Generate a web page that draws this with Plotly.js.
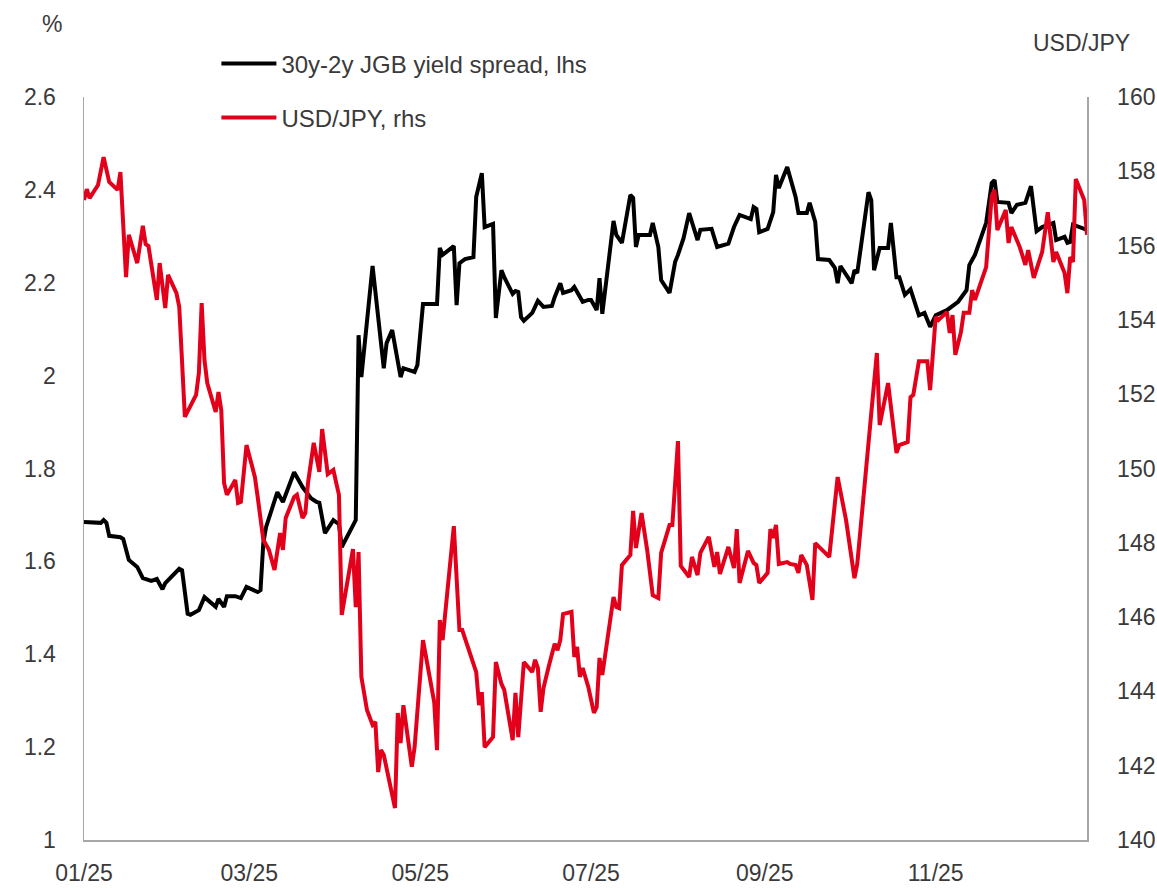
<!DOCTYPE html>
<html>
<head>
<meta charset="utf-8">
<script src="https://cdn.plot.ly/plotly-3.0.1.min.js"></script>
<style>html,body{margin:0;padding:0;background:#fff;}#chart{width:1157px;height:888px;}</style>
</head>
<body>
<div id="chart"></div>
<script>
// 30y-2y JGB yield spread (%, left axis)
const jgbDates = ["2025-01-01","2025-01-07","2025-01-08","2025-01-09","2025-01-10","2025-01-14","2025-01-15","2025-01-17","2025-01-20","2025-01-22","2025-01-25","2025-01-27","2025-01-29","2025-01-30","2025-02-04","2025-02-05","2025-02-07","2025-02-08","2025-02-11","2025-02-13","2025-02-17","2025-02-18","2025-02-20","2025-02-21","2025-02-24","2025-02-26","2025-02-28","2025-03-04","2025-03-05","2025-03-06","2025-03-07","2025-03-11","2025-03-13","2025-03-17","2025-03-20","2025-03-23","2025-03-25","2025-03-26","2025-03-28","2025-03-31","2025-04-02","2025-04-03","2025-04-08","2025-04-09","2025-04-10","2025-04-14","2025-04-18","2025-04-19","2025-04-21","2025-04-24","2025-04-25","2025-04-29","2025-04-30","2025-05-02","2025-05-07","2025-05-08","2025-05-09","2025-05-13","2025-05-14","2025-05-15","2025-05-17","2025-05-19","2025-05-20","2025-05-21","2025-05-23","2025-05-24","2025-05-27","2025-05-28","2025-05-30","2025-05-31","2025-06-03","2025-06-04","2025-06-05","2025-06-06","2025-06-07","2025-06-10","2025-06-12","2025-06-14","2025-06-17","2025-06-18","2025-06-20","2025-06-21","2025-06-24","2025-06-25","2025-06-28","2025-06-30","2025-07-01","2025-07-03","2025-07-04","2025-07-05","2025-07-07","2025-07-09","2025-07-10","2025-07-12","2025-07-15","2025-07-16","2025-07-17","2025-07-18","2025-07-22","2025-07-23","2025-07-25","2025-07-26","2025-07-29","2025-07-31","2025-08-01","2025-08-03","2025-08-05","2025-08-08","2025-08-09","2025-08-13","2025-08-15","2025-08-19","2025-08-21","2025-08-23","2025-08-27","2025-08-28","2025-08-29","2025-08-30","2025-09-02","2025-09-04","2025-09-05","2025-09-06","2025-09-09","2025-09-12","2025-09-13","2025-09-16","2025-09-17","2025-09-19","2025-09-20","2025-09-24","2025-09-26","2025-09-27","2025-09-28","2025-10-02","2025-10-03","2025-10-04","2025-10-08","2025-10-09","2025-10-10","2025-10-12","2025-10-15","2025-10-16","2025-10-18","2025-10-19","2025-10-21","2025-10-23","2025-10-26","2025-10-28","2025-10-30","2025-11-01","2025-11-05","2025-11-09","2025-11-12","2025-11-13","2025-11-15","2025-11-19","2025-11-21","2025-11-22","2025-11-23","2025-11-27","2025-11-28","2025-11-30","2025-12-03","2025-12-05","2025-12-07","2025-12-09","2025-12-13","2025-12-14","2025-12-17","2025-12-18","2025-12-19","2025-12-20","2025-12-25"];
const jgbSpread = [1.685,1.683,1.689,1.683,1.655,1.652,1.648,1.603,1.588,1.564,1.558,1.562,1.540,1.553,1.584,1.581,1.487,1.485,1.495,1.523,1.502,1.519,1.502,1.525,1.525,1.521,1.545,1.534,1.538,1.640,1.674,1.749,1.728,1.792,1.760,1.736,1.728,1.726,1.661,1.689,1.680,1.631,1.689,2.087,1.997,2.236,2.016,2.070,2.098,1.997,2.016,2.008,2.023,2.154,2.154,2.275,2.260,2.279,2.152,2.242,2.251,2.253,2.255,2.385,2.436,2.320,2.327,2.124,2.227,2.212,2.176,2.182,2.180,2.126,2.118,2.135,2.161,2.148,2.150,2.169,2.199,2.178,2.184,2.191,2.159,2.163,2.163,2.141,2.210,2.133,2.227,2.333,2.303,2.286,2.389,2.383,2.277,2.303,2.303,2.329,2.277,2.206,2.178,2.245,2.260,2.296,2.350,2.292,2.314,2.316,2.277,2.284,2.320,2.346,2.337,2.363,2.359,2.309,2.316,2.352,2.432,2.404,2.449,2.385,2.350,2.350,2.372,2.331,2.251,2.249,2.232,2.199,2.236,2.199,2.227,2.221,2.395,2.378,2.227,2.275,2.275,2.329,2.212,2.212,2.174,2.186,2.130,2.135,2.105,2.130,2.141,2.159,2.184,2.238,2.260,2.329,2.415,2.421,2.374,2.372,2.350,2.368,2.372,2.408,2.311,2.320,2.329,2.292,2.299,2.286,2.288,2.325,2.314];

// USD/JPY (right axis)
const fxDates = ["2025-01-01","2025-01-02","2025-01-03","2025-01-06","2025-01-08","2025-01-10","2025-01-13","2025-01-14","2025-01-16","2025-01-17","2025-01-20","2025-01-22","2025-01-23","2025-01-24","2025-01-27","2025-01-28","2025-01-30","2025-01-31","2025-02-03","2025-02-04","2025-02-06","2025-02-10","2025-02-11","2025-02-12","2025-02-13","2025-02-14","2025-02-17","2025-02-18","2025-02-19","2025-02-20","2025-02-21","2025-02-24","2025-02-25","2025-02-26","2025-02-28","2025-03-03","2025-03-04","2025-03-06","2025-03-08","2025-03-10","2025-03-12","2025-03-13","2025-03-14","2025-03-17","2025-03-18","2025-03-20","2025-03-21","2025-03-22","2025-03-24","2025-03-26","2025-03-27","2025-03-29","2025-03-31","2025-04-02","2025-04-03","2025-04-05","2025-04-07","2025-04-08","2025-04-09","2025-04-10","2025-04-12","2025-04-14","2025-04-15","2025-04-16","2025-04-17","2025-04-18","2025-04-22","2025-04-23","2025-04-24","2025-04-25","2025-04-28","2025-04-29","2025-05-02","2025-05-06","2025-05-07","2025-05-08","2025-05-09","2025-05-13","2025-05-15","2025-05-16","2025-05-19","2025-05-21","2025-05-22","2025-05-23","2025-05-24","2025-05-27","2025-05-28","2025-05-30","2025-05-31","2025-06-03","2025-06-04","2025-06-05","2025-06-07","2025-06-10","2025-06-11","2025-06-12","2025-06-13","2025-06-14","2025-06-16","2025-06-18","2025-06-19","2025-06-20","2025-06-21","2025-06-24","2025-06-25","2025-06-26","2025-06-27","2025-06-28","2025-06-30","2025-07-02","2025-07-03","2025-07-04","2025-07-05","2025-07-09","2025-07-10","2025-07-11","2025-07-12","2025-07-15","2025-07-16","2025-07-17","2025-07-19","2025-07-21","2025-07-23","2025-07-25","2025-07-26","2025-07-29","2025-07-30","2025-08-01","2025-08-02","2025-08-05","2025-08-06","2025-08-08","2025-08-09","2025-08-12","2025-08-14","2025-08-15","2025-08-16","2025-08-19","2025-08-21","2025-08-22","2025-08-23","2025-08-26","2025-08-28","2025-08-29","2025-08-30","2025-09-02","2025-09-03","2025-09-04","2025-09-05","2025-09-06","2025-09-09","2025-09-10","2025-09-12","2025-09-13","2025-09-14","2025-09-16","2025-09-18","2025-09-19","2025-09-24","2025-09-27","2025-09-30","2025-10-03","2025-10-04","2025-10-11","2025-10-12","2025-10-15","2025-10-18","2025-10-19","2025-10-22","2025-10-23","2025-10-24","2025-10-26","2025-10-29","2025-10-30","2025-11-01","2025-11-02","2025-11-05","2025-11-06","2025-11-07","2025-11-08","2025-11-10","2025-11-11","2025-11-13","2025-11-14","2025-11-15","2025-11-19","2025-11-21","2025-11-22","2025-11-23","2025-11-26","2025-11-27","2025-11-28","2025-12-01","2025-12-03","2025-12-04","2025-12-06","2025-12-09","2025-12-11","2025-12-13","2025-12-14","2025-12-17","2025-12-18","2025-12-19","2025-12-20","2025-12-21","2025-12-24","2025-12-25"];
const usdJpy = [157.23,157.52,157.28,157.63,158.38,157.71,157.50,157.98,155.15,156.29,155.53,156.53,156.04,155.99,154.54,155.53,154.32,155.21,154.72,154.35,151.39,151.98,152.57,154.45,152.92,152.30,151.52,152.06,151.57,149.61,149.29,149.69,149.07,149.10,150.63,149.77,149.23,148.08,147.81,147.27,148.26,147.81,148.67,149.23,149.29,148.67,148.80,149.64,150.69,149.91,151.06,149.85,149.96,149.29,146.06,146.94,147.83,146.27,147.75,144.39,143.50,143.10,143.18,141.83,142.42,142.29,140.86,143.42,142.61,143.63,141.97,142.50,145.38,143.71,142.42,145.92,145.38,148.45,145.65,145.65,144.93,144.52,143.63,143.98,142.50,142.77,144.79,144.20,144.04,142.69,143.96,142.77,144.79,144.52,144.85,144.63,143.45,144.09,144.71,145.28,145.11,145.38,146.08,146.14,144.93,145.20,144.39,144.63,144.12,143.42,143.58,144.90,144.44,146.54,146.27,146.24,147.40,147.67,148.86,147.86,148.80,147.81,146.59,146.51,147.73,148.48,148.48,150.74,147.38,147.08,147.62,147.13,147.73,148.16,147.35,147.75,147.16,147.89,147.32,148.37,146.92,147.78,147.46,147.40,146.92,147.19,148.37,148.13,148.48,147.43,147.48,147.43,147.40,147.19,147.67,147.40,146.46,147.99,147.62,149.77,148.61,147.05,147.43,153.11,151.17,152.30,150.42,150.63,150.71,151.92,151.98,152.89,152.89,152.11,154.08,154.00,154.21,153.65,154.13,153.06,153.67,154.19,154.19,154.80,154.54,155.42,157.34,157.50,156.42,156.96,156.07,156.50,155.96,155.48,155.88,155.13,155.83,156.90,155.56,155.83,155.26,154.72,155.69,155.56,157.79,157.23,156.29];

const seriesNames = ["30y-2y JGB yield spread, lhs", "USD/JPY, rhs"];
const leftTitle = "%";
const rightTitle = "USD/JPY";

const fontFam = "Liberation Sans, Arial, sans-serif";
const txtColor = "#3a3a3a";

const traces = [
  {x: jgbDates, y: jgbSpread, name: seriesNames[0], type: "scatter", mode: "lines",
   line: {color: "#000000", width: 4}, yaxis: "y", legendgroup: "a"},
  {x: fxDates, y: usdJpy, name: seriesNames[1], type: "scatter", mode: "lines",
   line: {color: "#e2001a", width: 4}, yaxis: "y2", legendgroup: "b"}
];

const layout = {
  width: 1157, height: 888,
  margin: {l: 84, r: 70, t: 97, b: 48},
  paper_bgcolor: "#fff", plot_bgcolor: "#fff",
  font: {family: fontFam, size: 23, color: txtColor},
  showlegend: true,
  legend: {x: 0.132, y: 1.075, xanchor: "left", yanchor: "top", traceorder: "grouped",
           tracegroupgap: 20, itemwidth: 55, bgcolor: "rgba(0,0,0,0)",
           font: {family: fontFam, size: 24, color: txtColor}},
  xaxis: {type: "date", range: ["2025-01-01", "2025-12-25"], tick0: "2025-01-01", dtick: "M2",
          tickformat: "%m/%y", showgrid: false, zeroline: false, showline: true,
          linecolor: "#a6a6a6", linewidth: 1.5, ticks: "", ticklabelstandoff: 12},
  yaxis: {range: [1, 2.6], dtick: 0.2, showgrid: false, zeroline: false, showline: true,
          linecolor: "#a6a6a6", linewidth: 1.5, ticks: "", ticklabelstandoff: 22},
  yaxis2: {range: [140, 160], dtick: 2, overlaying: "y", side: "right", showgrid: false,
           zeroline: false, showline: true, linecolor: "#a6a6a6", linewidth: 1.5, ticks: "",
           ticklabelstandoff: 24},
  annotations: [
    {text: leftTitle, xref: "paper", yref: "paper", x: -0.032, y: 1.098, xanchor: "center",
     yanchor: "middle", showarrow: false, font: {family: fontFam, size: 23, color: txtColor}},
    {text: rightTitle, xref: "paper", yref: "paper", x: 0.995, y: 1.073, xanchor: "center",
     yanchor: "middle", showarrow: false, font: {family: fontFam, size: 23, color: txtColor}}
  ]
};

Plotly.newPlot("chart", traces, layout, {displayModeBar: false, staticPlot: true});
</script>
</body>
</html>
